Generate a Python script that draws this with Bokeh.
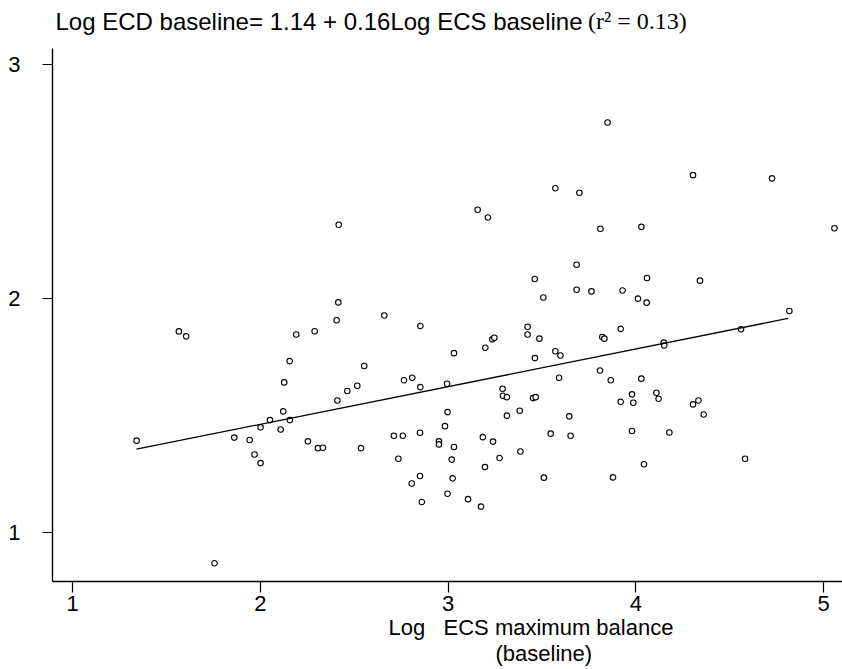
from bokeh.plotting import figure
from bokeh.models import Range1d, FixedTicker, Label, ColumnDataSource, Title
from bokeh.embed import file_html
from bokeh.resources import INLINE

# ---- data ----
ecs_log = [1.341, 1.566, 1.605, 1.756, 1.861, 1.943, 1.969, 2.001, 2.001, 2.051,
           2.108, 2.122, 2.157, 2.127, 2.156, 2.191, 2.289, 2.253, 2.307, 2.333,
           2.406, 2.415, 2.410, 2.417, 3.157, 3.212, 3.571, 3.699, 3.849, 3.811,
           3.684, 3.461, 3.684, 3.763, 3.929, 3.507, 2.660, 2.852, 3.423, 3.423,
           3.486, 3.235, 3.246, 3.198, 3.031, 3.571, 3.598, 3.462, 3.821, 3.832,
           3.919, 2.553, 3.809, 2.765, 2.809, 3.591, 3.866, 2.516, 2.463, 2.852,
           2.994, 3.290, 3.292, 3.313, 3.452, 3.466, 3.919, 2.997, 3.313, 3.381,
           3.645, 2.983, 2.711, 2.759, 2.850, 3.185, 3.239, 3.546, 3.652, 2.536,
           2.951, 2.951, 3.031, 2.735, 3.019, 3.274, 3.385, 3.196, 2.850, 2.806,
           3.024, 3.510, 3.878, 2.997, 3.106, 2.860, 3.175, 4.304, 4.725, 4.029,
           5.057, 4.059, 4.341, 4.011, 4.057, 4.817, 4.560, 4.148, 4.151, 4.029,
           3.979, 4.109, 3.986, 4.121, 4.304, 4.333, 4.361, 3.979, 4.178, 4.581,
           4.043]
ecd_log = [1.392, 1.859, 1.838, 0.868, 1.405, 1.395, 1.333, 1.296, 1.449, 1.480,
           1.440, 1.517, 1.480, 1.641, 1.732, 1.846, 1.860, 1.389, 1.360, 1.362,
           1.907, 1.983, 1.564, 2.315, 2.379, 2.346, 2.471, 2.452, 2.752, 2.298,
           2.144, 2.083, 2.037, 2.030, 2.034, 2.004, 1.927, 1.882, 1.879, 1.846,
           1.828, 1.825, 1.832, 1.789, 1.766, 1.774, 1.756, 1.745, 1.835, 1.828,
           1.870, 1.711, 1.692, 1.650, 1.661, 1.661, 1.650, 1.627, 1.604, 1.621,
           1.635, 1.614, 1.584, 1.578, 1.574, 1.578, 1.558, 1.514, 1.499, 1.520,
           1.496, 1.454, 1.413, 1.413, 1.426, 1.407, 1.388, 1.422, 1.413, 1.360,
           1.389, 1.376, 1.365, 1.315, 1.311, 1.318, 1.346, 1.279, 1.241, 1.209,
           1.231, 1.234, 1.235, 1.165, 1.142, 1.130, 1.110, 2.527, 2.513, 2.306,
           2.300, 2.087, 2.076, 1.999, 1.982, 1.946, 1.868, 1.811, 1.799, 1.657,
           1.590, 1.597, 1.554, 1.571, 1.547, 1.564, 1.504, 1.433, 1.427, 1.315,
           1.291]

fit_intercept = 1.14
fit_slope = 0.161
fit_x = [1.34, 4.81]
fit_y = [fit_intercept + fit_slope * v for v in fit_x]

x_ticks = [1, 2, 3, 4, 5]
y_ticks = [1, 2, 3]

title_main = "Log ECD baseline= 1.14 + 0.16Log ECS baseline"
title_r2 = "(r\u00b2 = 0.13)"
xlabel_1 = "Log\u00a0\u00a0 ECS maximum balance"
xlabel_2 = "(baseline)"

# ---- figure ----
# frame reaches the top of the canvas; the y axis line stops at the plotted range
W, H = 842, 669
y_lo, y_hi, y_top = 0.79, 3.07, 3.2735
p = figure(width=W, height=H, output_backend="svg", toolbar_location=None,
           x_range=Range1d(0.893, 5.10), y_range=Range1d(y_lo, y_top),
           min_border_left=52, min_border_right=0, min_border_top=0,
           min_border_bottom=88)
p.outline_line_color = None
p.xgrid.visible = False
p.ygrid.visible = False
p.background_fill_color = "white"
p.border_fill_color = "white"
p.yaxis.bounds = (y_lo, y_hi)

p.xaxis.ticker = FixedTicker(ticks=x_ticks)
p.yaxis.ticker = FixedTicker(ticks=y_ticks)
for ax in (p.xaxis, p.yaxis):
    ax.axis_line_color = "black"
    ax.axis_line_width = 1.4
    ax.major_tick_line_color = "black"
    ax.major_tick_line_width = 1.2
    ax.major_tick_in = 0
    ax.minor_tick_line_color = None
    ax.major_label_text_font = "Liberation Sans"
    ax.major_label_text_font_size = "22px"
    ax.major_label_text_color = "black"
p.xaxis.major_tick_out = 11
p.yaxis.major_tick_out = 10
p.xaxis.major_label_standoff = 3
p.yaxis.major_label_standoff = 22

src = ColumnDataSource(dict(x=ecs_log, y=ecd_log))
p.scatter("x", "y", source=src, marker="circle", size=5.5,
          fill_color="white", line_color="black", line_width=1.1)
p.line(fit_x, fit_y, line_color="black", line_width=1.3)

# title (inside the extended frame, above the axis end)
p.add_layout(Label(x=0.909, y=3.184, text=title_main, text_font="Liberation Sans",
                   text_font_size="24px", text_color="black",
                   text_baseline="alphabetic", text_align="left"))
p.add_layout(Label(x=3.745, y=3.184, text=title_r2, text_font="Liberation Serif",
                   text_font_size="24px", text_color="black",
                   text_baseline="alphabetic", text_align="left"))

# x axis title, two lines, below the tick labels
t1 = Title(text=xlabel_1, align="left", offset=336, text_font="Liberation Sans",
           text_font_size="22px", text_font_style="normal", text_color="black",
           vertical_align="top", standoff=2)
p.add_layout(t1, "below")
t2 = Title(text=xlabel_2, align="left", offset=443, text_font="Liberation Sans",
           text_font_size="22px", text_font_style="normal", text_color="black",
           vertical_align="top", standoff=-4)
p.add_layout(t2, "below")

open("out.html", "w").write(file_html(p, INLINE))
